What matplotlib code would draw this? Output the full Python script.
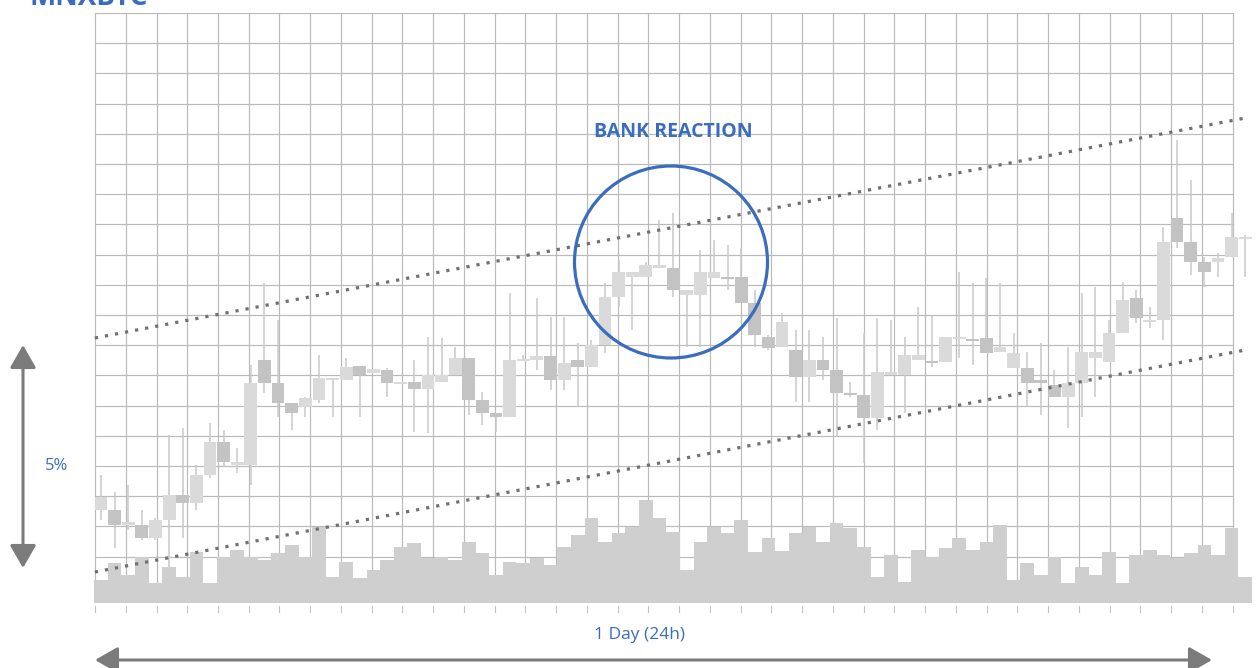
import numpy as np
import matplotlib
matplotlib.use('Agg')
import matplotlib.pyplot as plt
from matplotlib.patches import Ellipse

plt.rcParams['font.family'] = ['Open Sans', 'DejaVu Sans']

###############################################################################
## Data (price in chart points, 1 grid row ~ 30 points) ##
###############################################################################
opens = [93, 93, 78, 78, 65, 83, 108, 100, 128, 161,
         138, 138, 243, 220, 200, 196, 203, 223, 223, 237,
         230, 233, 219, 221, 214, 221, 228, 245, 203, 190,
         186, 242, 243, 247, 223, 243, 236, 258, 306, 326,
         326, 335, 335, 308, 308, 325, 326, 326, 300, 266,
         256, 253, 226, 243, 233, 210, 208, 185, 228, 228,
         243, 242, 241, 264, 264, 265, 251, 235, 235, 223,
         218, 206, 220, 245, 241, 270, 305, 281, 283, 385,
         361, 341, 341, 346, 364]
closes = [106, 78, 81, 65, 83, 108, 100, 128, 161, 141,
          141, 220, 220, 200, 190, 205, 225, 225, 236, 228,
          234, 220, 221, 214, 228, 228, 245, 203, 190, 186,
          243, 244, 247, 223, 240, 236, 258, 306, 331, 331,
          338, 338, 313, 313, 331, 331, 324, 300, 268, 255,
          281, 226, 243, 233, 210, 208, 185, 231, 231, 248,
          248, 240, 266, 266, 262, 250, 256, 250, 220, 220,
          206, 220, 251, 251, 270, 303, 285, 283, 361, 361,
          341, 331, 345, 366, 366]
highs = [128, 111, 118, 93, 85, 168, 175, 138, 180, 173,
         155, 238, 320, 283, 200, 206, 248, 225, 245, 237,
         234, 235, 221, 243, 266, 265, 256, 245, 211, 190,
         310, 248, 305, 286, 286, 260, 263, 320, 343, 331,
         341, 383, 390, 313, 353, 363, 358, 355, 313, 268,
         290, 273, 273, 266, 285, 221, 270, 285, 283, 266,
         296, 288, 266, 331, 320, 325, 320, 270, 251, 260,
         233, 256, 310, 316, 283, 321, 313, 296, 376, 463,
         423, 346, 350, 390, 368]
lows = [83, 55, 73, 63, 63, 36, 65, 93, 125, 136,
        130, 118, 210, 186, 173, 186, 200, 186, 223, 186,
        230, 206, 219, 171, 170, 221, 228, 188, 178, 171,
        186, 242, 233, 213, 213, 196, 236, 250, 296, 273,
        326, 335, 306, 256, 256, 325, 313, 300, 256, 253,
        256, 201, 201, 223, 166, 206, 140, 173, 228, 190,
        243, 236, 241, 245, 238, 250, 251, 235, 196, 188,
        206, 175, 186, 206, 241, 270, 280, 275, 263, 355,
        328, 316, 326, 346, 326]
volume = [23, 40, 28, 46, 20, 36, 26, 51, 20, 46,
          53, 46, 43, 50, 58, 46, 76, 26, 41, 25,
          33, 43, 56, 60, 45, 46, 43, 61, 50, 28,
          41, 40, 45, 38, 56, 68, 85, 61, 70, 76,
          103, 85, 71, 33, 61, 76, 70, 83, 51, 65,
          52, 70, 76, 61, 80, 75, 56, 26, 48, 21,
          53, 46, 55, 65, 53, 61, 78, 23, 40, 28,
          46, 20, 36, 28, 51, 20, 48, 53, 48, 45,
          50, 58, 48, 75, 26]

# channel lines (start / end, candle index and price)
upper_x = [-0.45, 84.0]
upper_y = [265, 485]
lower_x = [-0.45, 84.0]
lower_y = [31, 253]

title = 'MNXBTC'
note = 'BANK REACTION'
pct_label = '5%'
time_label = '1 Day (24h)'

blue = '#3a6cc0'
arrow_grey = '#7b7b7b'

###############################################################################
## Figure                                                                    ##
###############################################################################
W, H = 1256, 668
fig = plt.figure(figsize=(W / 100, H / 100), dpi=100)
ax = fig.add_axes([94.2 / W, (H - 603) / H, (1252 - 94.2) / W, 590 / H])
ax.set_xlim(-0.5, 84.5)
ax.set_ylim(0, 590)
ax.axis('off')

# grid: one column every ~30.75 px, one row every ~30.2 px
step = (1252 - 94.2) / 85
gx = (0.8 + 30.75 * np.arange(38)) / step - 0.5
gy = 590 - 30.2 * np.arange(20)
for x in gx:
    ax.plot([x, x], [0, 590], color='#bababa', lw=0.85, zorder=1)
    ax.plot([x, x], [-3, -9], color='#c4c4c4', lw=0.8, zorder=1, clip_on=False)
for y in gy:
    ax.plot([gx[0], gx[-1]], [y, y], color='#bababa', lw=0.85, zorder=1)

idx = np.arange(len(opens))
o = np.array(opens)
c = np.array(closes)

# volume
ax.bar(idx, volume, width=1.0, color='#cfcfcf', edgecolor='none', zorder=2)

# candles
up = c >= o
body_lo = np.minimum(o, c)
body_h = np.maximum(np.abs(c - o), 2)
ax.vlines(idx, lows, highs, color='#c9c9c9', lw=1.1, zorder=3)
ax.bar(idx[up], body_h[up], bottom=body_lo[up], width=0.94,
       color='#dadada', edgecolor='none', zorder=4)
ax.bar(idx[~up], body_h[~up], bottom=body_lo[~up], width=0.94,
       color='#c3c3c3', edgecolor='none', zorder=4)

# channel
for xs, ys in [(upper_x, upper_y), (lower_x, lower_y)]:
    ax.plot(xs, ys, color='#707070', lw=2.3, ls=(0, (1, 2.2)),
            dash_capstyle='butt', zorder=5)

# circle + labels
fig.patches.append(Ellipse((671 / W, 1 - 262 / H), 193 / W, 192 / H,
                           transform=fig.transFigure, fill=False,
                           edgecolor=blue, lw=2.3, zorder=10))
fig.text(673 / W, 1 - 132 / H, note, color=blue, fontsize=14,
         fontweight='bold', ha='center', va='center')
# title sits mostly above the top edge, as in the original
fig.text(89 / W, 1 - 5 / H, title, color=blue, fontsize=20,
         fontweight='bold', ha='center', va='baseline')
fig.text(57 / W, 1 - 466 / H, pct_label, color=blue, fontsize=12,
         ha='center', va='center')
fig.text(640 / W, 1 - 635 / H, time_label, color=blue, fontsize=12.5,
         ha='center', va='center')

# arrows
aprops = dict(arrowstyle='<|-|>,head_length=0.7,head_width=0.4',
              color=arrow_grey, lw=2.2, shrinkA=0, shrinkB=0,
              mutation_scale=20)
fig.add_artist(plt.Annotation('', xy=(1212, H - 660), xytext=(95, H - 660),
                              xycoords='figure pixels', textcoords='figure pixels',
                              arrowprops=aprops))
fig.add_artist(plt.Annotation('', xy=(23, H - 345), xytext=(23, H - 568),
                              xycoords='figure pixels', textcoords='figure pixels',
                              arrowprops=aprops))

fig.savefig('out.png', dpi=100)
